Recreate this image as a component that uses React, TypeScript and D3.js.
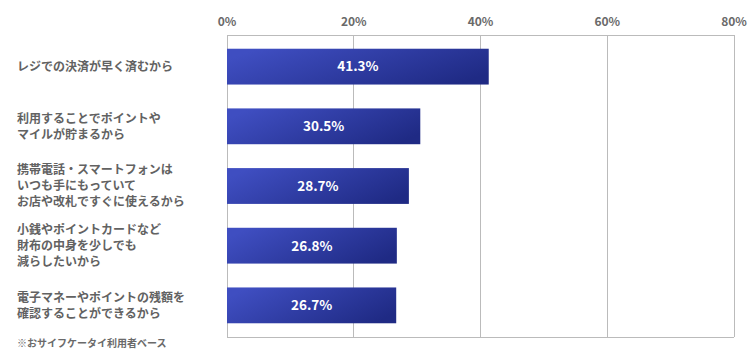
import React, { useEffect, useRef } from "react";
import * as d3 from "d3";

const categories: string[][] = [
  ["レジでの決済が早く済むから"],
  ["利用することでポイントや", "マイルが貯まるから"],
  ["携帯電話・スマートフォンは", "いつも手にもっていて", "お店や改札ですぐに使えるから"],
  ["小銭やポイントカードなど", "財布の中身を少しでも", "減らしたいから"],
  ["電子マネーやポイントの残額を", "確認することができるから"],
];
const values: number[] = [41.3, 30.5, 28.7, 26.8, 26.7];
const ticks: number[] = [0, 20, 40, 60, 80];
const note = "※おサイフケータイ利用者ベース";

const FONT = "'Noto Sans CJK JP', 'Noto Sans', sans-serif";

const App = () => {
  const ref = useRef<SVGSVGElement | null>(null);

  useEffect(() => {
    const width = 750;
    const height = 361;
    const margin = { top: 35, right: 16, bottom: 24, left: 227 };
    const innerW = 734 - margin.left;
    const innerH = height - margin.top - margin.bottom;

    const svg = d3.select(ref.current)
      .attr("width", width)
      .attr("height", height)
      .style("font-family", FONT)
      .style("display", "block");
    svg.selectAll("*").remove();

    const defs = svg.append("defs");
    const grad = defs.append("linearGradient")
      .attr("id", "barGrad")
      .attr("x1", "0%").attr("y1", "30%")
      .attr("x2", "100%").attr("y2", "70%");
    grad.append("stop").attr("offset", "0%").attr("stop-color", "#3f4ec1");
    grad.append("stop").attr("offset", "100%").attr("stop-color", "#1f2a84");

    const g = svg.append("g").attr("transform", `translate(${margin.left},${margin.top})`);

    const x = d3.scaleLinear().domain([0, 80]).range([0, innerW]);
    const y = d3.scaleBand<number>()
      .domain(d3.range(values.length))
      .range([0, innerH])
      .paddingInner(0.4)
      .paddingOuter(0.23);

    // grid
    g.selectAll(".grid")
      .data(ticks)
      .enter().append("line")
      .attr("x1", d => x(d)).attr("x2", d => x(d))
      .attr("y1", 0).attr("y2", innerH)
      .attr("stroke", "#bbb")
      .attr("stroke-width", 1)
      .attr("shape-rendering", "crispEdges");

    g.append("line")
      .attr("x1", 0).attr("x2", innerW)
      .attr("y1", 0).attr("y2", 0)
      .attr("stroke", "#bbb").attr("shape-rendering", "crispEdges");
    g.append("line")
      .attr("x1", 0).attr("x2", innerW)
      .attr("y1", innerH).attr("y2", innerH)
      .attr("stroke", "#bbb").attr("shape-rendering", "crispEdges");

    // tick labels
    g.selectAll(".tick-label")
      .data(ticks)
      .enter().append("text")
      .attr("x", d => x(d))
      .attr("y", -9)
      .attr("text-anchor", "middle")
      .style("font-size", "12px")
      .style("font-weight", "bold")
      .style("fill", "#6a6a6a")
      .text(d => `${d}%`);

    // bars
    g.selectAll(".bar")
      .data(values)
      .enter().append("rect")
      .attr("x", 0)
      .attr("y", (d, i) => y(i)!)
      .attr("width", d => x(d))
      .attr("height", y.bandwidth())
      .attr("fill", "url(#barGrad)");

    g.selectAll(".value")
      .data(values)
      .enter().append("text")
      .attr("x", d => x(d) / 2)
      .attr("y", (d, i) => y(i)! + y.bandwidth() / 2)
      .attr("dy", "0.36em")
      .attr("text-anchor", "middle")
      .style("font-size", "13.5px")
      .style("font-weight", "bold")
      .style("fill", "#fff")
      .text(d => `${d.toFixed(1)}%`);

    // category labels
    const lineH = 16;
    categories.forEach((lines, i) => {
      const cy = margin.top + y(i)! + y.bandwidth() / 2;
      const t = svg.append("text")
        .attr("x", 17)
        .attr("y", cy - ((lines.length - 1) * lineH) / 2)
        .style("font-size", "12px")
        .style("font-weight", "bold")
        .style("fill", "#626262");
      lines.forEach((l, j) => {
        t.append("tspan")
          .attr("x", 17)
          .attr("dy", j === 0 ? "0.36em" : lineH)
          .text(l);
      });
    });

    svg.append("text")
      .attr("x", 17)
      .attr("y", 347)
      .style("font-size", "10px")
      .style("font-weight", "bold")
      .style("fill", "#6a6a6a")
      .text(note);
  }, []);

  return (
    <div style={{ position: "absolute", left: 0, top: 0 }}>
      <svg ref={ref}></svg>
    </div>
  );
};

export default App;
